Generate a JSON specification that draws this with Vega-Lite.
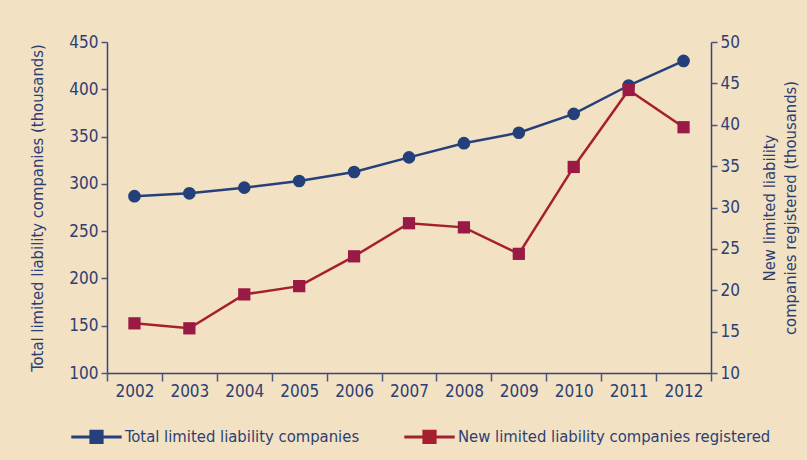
{
  "$schema": "https://vega.github.io/schema/vega-lite/v6.json",
  "width": 604,
  "height": 331,
  "autosize": {"type": "none"},
  "padding": {"left": 107, "top": 42, "right": 96, "bottom": 87},
  "background": "#f3e1c3",
  "config": {
    "view": {"stroke": null},
    "font": "Liberation Sans Narrow, DejaVu Sans Condensed, sans-serif",
    "axis": {
      "grid": false,
      "domainColor": "#34467a",
      "domainWidth": 1.5,
      "tickColor": "#4a5783",
      "tickWidth": 1.5,
      "labelColor": "#2b3f73",
      "titleColor": "#2b3f73",
      "labelFontSize": 17,
      "titleFontSize": 16.5,
      "titleFontWeight": "normal",
      "labelFont": "Liberation Sans Narrow, DejaVu Sans Condensed, sans-serif",
      "titleFont": "Liberation Sans Narrow, DejaVu Sans Condensed, sans-serif"
    }
  },
  "data": {
    "values": [
      {"year": "2002", "series": "Total limited liability companies", "value": 287},
      {"year": "2003", "series": "Total limited liability companies", "value": 290},
      {"year": "2004", "series": "Total limited liability companies", "value": 296},
      {"year": "2005", "series": "Total limited liability companies", "value": 303},
      {"year": "2006", "series": "Total limited liability companies", "value": 312.5},
      {"year": "2007", "series": "Total limited liability companies", "value": 328},
      {"year": "2008", "series": "Total limited liability companies", "value": 343},
      {"year": "2009", "series": "Total limited liability companies", "value": 354},
      {"year": "2010", "series": "Total limited liability companies", "value": 374},
      {"year": "2011", "series": "Total limited liability companies", "value": 404},
      {"year": "2012", "series": "Total limited liability companies", "value": 430},
      {"year": "2002", "series": "New limited liability companies registered", "value": 16.0},
      {"year": "2003", "series": "New limited liability companies registered", "value": 15.4},
      {"year": "2004", "series": "New limited liability companies registered", "value": 19.5},
      {"year": "2005", "series": "New limited liability companies registered", "value": 20.5},
      {"year": "2006", "series": "New limited liability companies registered", "value": 24.1},
      {"year": "2007", "series": "New limited liability companies registered", "value": 28.1},
      {"year": "2008", "series": "New limited liability companies registered", "value": 27.6},
      {"year": "2009", "series": "New limited liability companies registered", "value": 24.4},
      {"year": "2010", "series": "New limited liability companies registered", "value": 34.9},
      {"year": "2011", "series": "New limited liability companies registered", "value": 44.2},
      {"year": "2012", "series": "New limited liability companies registered", "value": 39.7}
    ]
  },
  "encoding": {
    "x": {
      "field": "year",
      "type": "ordinal",
      "scale": {"type": "band", "paddingInner": 0, "paddingOuter": 0},
      "axis": {"title": null, "labelAngle": 0, "tickBand": "extent", "tickSize": 8, "labelPadding": 2}
    }
  },
  "layer": [
    {
      "transform": [{"filter": "datum.series === 'Total limited liability companies'"}],
      "encoding": {
        "y": {
          "field": "value",
          "type": "quantitative",
          "scale": {"domain": [100, 450], "nice": false, "zero": false},
          "axis": {
            "orient": "left",
            "values": [100, 150, 200, 250, 300, 350, 400, 450],
            "title": "Total limited liability companies (thousands)",
            "tickSize": 6,
            "labelPadding": 3,
            "titlePadding": 23
          }
        }
      },
      "layer": [
        {
          "mark": {"type": "line", "strokeWidth": 2.5},
          "encoding": {
            "color": {
              "field": "series",
              "type": "nominal",
              "scale": {
                "domain": ["Total limited liability companies", "New limited liability companies registered"],
                "range": ["#25407a", "#a5202f"]
              },
              "legend": {
                "title": null,
                "orient": "none",
                "legendX": -19,
                "legendY": 386,
                "direction": "horizontal",
                "symbolType": "M-3.6,0H3.6M-0.8,-0.8H0.8V0.8H-0.8Z",
                "symbolSize": 196,
                "symbolStrokeWidth": 3,
                "labelFontSize": 16.5,
                "labelLimit": 0,
                "labelColor": "#2b3f73",
                "labelOffset": 20,
                "columnPadding": 38,
                "labelFont": "Liberation Sans Narrow, DejaVu Sans Condensed, sans-serif",
                "encode": {
                  "symbols": {"update": {"fill": {"scale": "color", "field": "value"}, "fillOpacity": {"value": 1}}}
                }
              }
            }
          }
        },
        {
          "mark": {"type": "point", "shape": "circle", "filled": true, "size": 160, "color": "#23407a", "opacity": 1}
        }
      ]
    },
    {
      "transform": [{"filter": "datum.series === 'New limited liability companies registered'"}],
      "encoding": {
        "y": {
          "field": "value",
          "type": "quantitative",
          "scale": {"domain": [10, 50], "nice": false, "zero": false},
          "axis": {
            "orient": "right",
            "values": [10, 15, 20, 25, 30, 35, 40, 45, 50],
            "title": ["New limited liability", "companies registered (thousands)"],
            "titleAngle": -90,
            "titleLineHeight": 21,
            "tickSize": 6,
            "labelPadding": 3,
            "titlePadding": 17
          }
        }
      },
      "layer": [
        {
          "mark": {"type": "line", "strokeWidth": 2.5},
          "encoding": {
            "color": {"field": "series", "type": "nominal"}
          }
        },
        {
          "mark": {"type": "point", "shape": "square", "filled": true, "size": 150, "color": "#991a45", "opacity": 1}
        }
      ]
    }
  ],
  "resolve": {"scale": {"y": "independent"}}
}
